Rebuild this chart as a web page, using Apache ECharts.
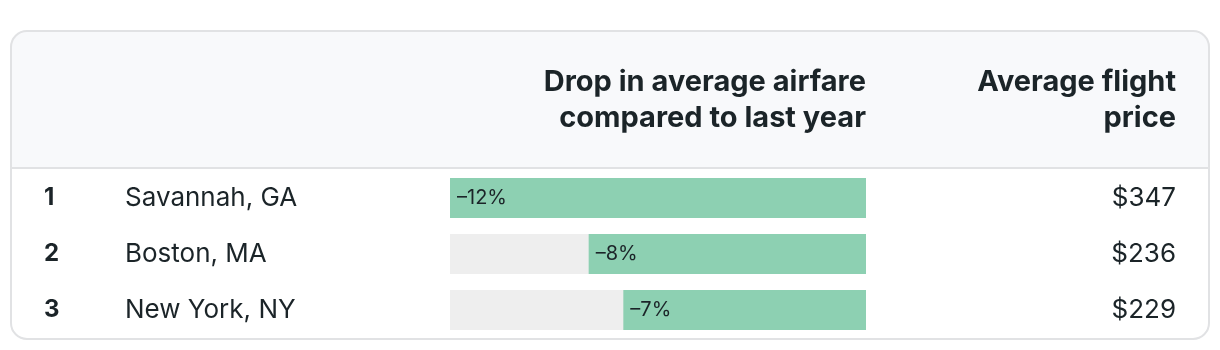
<!DOCTYPE html>
<html>
<head>
<meta charset="utf-8">
<script src="https://cdn.jsdelivr.net/npm/echarts@6/dist/echarts.min.js"></script>
<style>
  html, body { margin: 0; padding: 0; background: #fff; }
  #chart { width: 1220px; height: 350px; }
</style>
</head>
<body>
<div id="chart"></div>
<script>
const ranks = ['1', '2', '3']
const cities = ['Savannah, GA', 'Boston, MA', 'New York, NY']
const drops = [12, 8, 7] // % drop vs last year
const prices = ['$347', '$236', '$229']
const headerDrop = 'Drop in average airfare\ncompared to last year'
const headerPrice = 'Average flight\nprice'

const FONT = 'Inter, "Noto Sans", sans-serif'
const TEXT = '#1b2428'

const chart = echarts.init(document.getElementById('chart'))

chart.setOption({
  animation: false,
  textStyle: { fontFamily: FONT },
  graphic: [
    {
      type: 'rect',
      shape: { x: 11, y: 31, width: 1198, height: 137, r: [16, 16, 0, 0] },
      style: { fill: '#f8f9fb' },
      z: -10,
    },
    {
      type: 'line',
      shape: { x1: 11, y1: 168, x2: 1209, y2: 168 },
      style: { stroke: '#e1e2e4', lineWidth: 2 },
      z: -9,
    },
    {
      type: 'rect',
      shape: { x: 11, y: 31, width: 1198, height: 308, r: 16 },
      style: { fill: 'none', stroke: '#e1e2e4', lineWidth: 2 },
      z: -8,
    },
    {
      type: 'text',
      x: 866,
      y: 64,
      style: {
        text: headerDrop,
        align: 'right',
        verticalAlign: 'top',
        font: 'bold 29px ' + FONT,
        lineHeight: 36,
        fill: TEXT,
      },
    },
    {
      type: 'text',
      x: 1176,
      y: 64,
      style: {
        text: headerPrice,
        align: 'right',
        verticalAlign: 'top',
        font: 'bold 29px ' + FONT,
        lineHeight: 36,
        fill: TEXT,
      },
    },
  ],
  grid: { left: 450, right: 354, top: 170, height: 168 },
  xAxis: {
    type: 'value',
    min: 0,
    max: 12,
    inverse: true,
    show: false,
  },
  yAxis: [
    {
      type: 'category',
      inverse: true,
      data: cities,
      axisLine: { show: false },
      axisTick: { show: false },
      axisLabel: {
        align: 'left',
        margin: 406,
        formatter: (v, i) => `{rank|${ranks[i]}}{city|${v}}`,
        rich: {
          rank: { width: 81, fontSize: 24, fontWeight: 'bold', color: TEXT, fontFamily: FONT },
          city: { fontSize: 26, color: TEXT, fontFamily: FONT },
        },
      },
    },
    {
      type: 'category',
      inverse: true,
      position: 'right',
      data: prices,
      axisLine: { show: false },
      axisTick: { show: false },
      axisLabel: {
        align: 'right',
        margin: 310,
        fontSize: 26,
        color: TEXT,
        fontFamily: FONT,
      },
    },
  ],
  series: [
    {
      type: 'bar',
      data: drops,
      barWidth: 40,
      showBackground: true,
      backgroundStyle: { color: '#eeeeee' },
      itemStyle: { color: '#8dd0b2' },
      label: {
        show: true,
        position: 'insideLeft',
        distance: 7,
        formatter: (p) => `–${p.value}%`,
        fontSize: 20,
        color: TEXT,
        fontFamily: FONT,
      },
    },
  ],
})
</script>
</body>
</html>
